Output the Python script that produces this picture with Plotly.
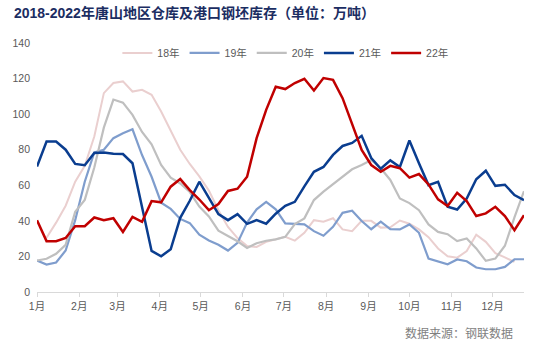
import pandas as pd
import plotly.graph_objects as go

# ---- data ----
dates = pd.date_range("2022-01-01", periods=52, freq="7D")
series_names = ["18年", "19年", "20年", "21年", "22年"]
y18 = [None, 30.5, 39.0, 48.5, 62.0, 71.0, 87.4, 111.8, 117.5, 118.4,
       112.7, 113.7, 110.9, 101.5, 91.0, 80.0, 72.0, 65.0, 57.0, 46.0,
       36.6, 30.3, 25.8, 25.3, 28.2, 29.5, 31.0, 28.9, 33.3, 40.4,
       39.5, 41.5, 35.2, 34.2, 40.0, 40.0, 36.2, 36.4, 40.2, 38.4,
       35.2, 30.8, 24.5, 20.1, 19.3, 23.0, 32.2, 28.2, 21.8, 19.5,
       16.9, None]
y19 = [17.7, 15.4, 16.6, 23.3, 40.4, 62.0, 78.5, 80.0, 86.5, 89.3,
       91.5, 77.0, 64.8, 50.2, 46.7, 41.1, 38.7, 32.2, 29.0, 26.6,
       23.3, 27.6, 39.0, 46.5, 50.7, 46.5, 38.6, 38.2, 38.0, 34.2,
       31.6, 36.6, 44.5, 45.7, 39.9, 35.3, 39.5, 35.3, 35.2, 38.0,
       33.3, 18.8, 17.3, 15.6, 18.3, 17.3, 13.8, 12.8, 12.8, 14.1,
       18.4, 18.4]
y20 = [17.7, 18.7, 21.5, 26.5, 45.1, 51.8, 70.0, 92.4, 108.2, 106.5,
       99.6, 90.0, 83.0, 71.4, 64.3, 61.0, 56.2, 48.0, 42.5, 34.5,
       31.5, 28.5, 24.8, 27.4, 28.8, 29.6, 31.0, 38.2, 41.4, 51.7,
       56.4, 60.6, 64.8, 69.0, 71.4, 74.2, 69.6, 63.0, 52.6, 50.0,
       46.0, 38.0, 33.8, 32.5, 28.6, 30.1, 24.5, 17.5, 18.8, 26.0,
       42.0, 56.7]
y21 = [70.5, 84.6, 84.6, 80.0, 72.0, 71.3, 78.2, 78.4, 77.8, 77.6,
       72.4, 48.0, 23.1, 20.1, 24.0, 41.7, 51.3, 62.0, 52.6, 43.8,
       40.4, 43.8, 38.3, 40.4, 38.4, 44.0, 48.5, 50.7, 59.4, 67.6,
       70.3, 77.1, 82.1, 83.8, 87.8, 75.3, 69.3, 74.0, 70.3, 85.2,
       72.4, 60.1, 62.0, 48.0, 46.4, 52.6, 63.4, 68.2, 59.7, 60.3,
       54.5, 51.7]
y22 = [40.4, 28.6, 28.6, 30.4, 37.0, 37.0, 41.9, 40.4, 41.5, 33.8,
       42.3, 39.5, 51.1, 50.4, 59.2, 63.5, 57.3, 52.0, 46.0, 49.5,
       56.8, 58.1, 64.8, 86.5, 102.4, 115.4, 114.1, 117.5, 119.9, 113.3,
       120.3, 119.3, 109.0, 95.0, 79.9, 71.4, 67.6, 70.9, 69.6, 64.3,
       66.3, 60.5, 52.1, 48.3, 55.8, 51.1, 42.7, 44.2, 47.9, 42.7,
       34.8, 43.2]
month_ticks = pd.date_range("2022-01-01", periods=12, freq="MS")
month_labels = ["1月", "2月", "3月", "4月", "5月", "6月",
                "7月", "8月", "9月", "10月", "11月", "12月"]
y_ticks = [0, 20, 40, 60, 80, 100, 120, 140]

# ---- styles ----
colors = ["#EACFCF", "#7F9DCD", "#BFBFBF", "#0A3D8F", "#C00000"]
widths = [2, 2.2, 2.2, 2.5, 2.5]
FONT = "Liberation Sans, Arial, Noto Sans CJK SC"

fig = go.Figure()
for name, ys, c, w in zip(series_names, [y18, y19, y20, y21, y22], colors, widths):
    fig.add_trace(go.Scatter(x=dates, y=ys, name=name, mode="lines",
                             line=dict(color=c, width=w), connectgaps=False))

fig.update_layout(
    width=537, height=342,
    margin=dict(l=32, r=13, t=43, b=50),
    paper_bgcolor="white", plot_bgcolor="white",
    font=dict(family=FONT, size=10.5, color="#595959"),
    title=dict(text="<b>2018-2022年唐山地区仓库及港口钢坯库存（单位：万吨）</b>",
               xref="container", yref="container", x=0.026, xanchor="left",
               y=0.962, yanchor="middle",
               font=dict(family="Liberation Sans, Noto Sans CJK SC", size=14, color="#1B2D62")),
    legend=dict(orientation="h", x=0.51, xanchor="center", y=0.96, yanchor="middle",
                bgcolor="rgba(0,0,0,0)", font=dict(size=10.5, color="#595959"),
                itemwidth=30, tracegroupgap=0),
    showlegend=True,
)
fig.update_xaxes(type="date", range=["2022-01-01", "2022-12-24"],
                 tickvals=month_ticks, ticktext=month_labels,
                 showline=True, linecolor="#D9D9D9", linewidth=1,
                 ticks="outside", ticklen=4, tickcolor="#D9D9D9",
                 showgrid=False, zeroline=False, fixedrange=True)
fig.update_yaxes(range=[0, 140], tickvals=y_ticks, showgrid=False, zeroline=False,
                 showline=False, ticks="", ticklabelstandoff=6, fixedrange=True)

fig.add_annotation(text="数据来源：钢联数据", xref="paper", yref="paper",
                   x=0.981, y=-0.161, xanchor="right", yanchor="middle",
                   showarrow=False, font=dict(family="Noto Sans CJK SC", size=12, color="#7F7F7F"))

fig.write_html("out.html")
